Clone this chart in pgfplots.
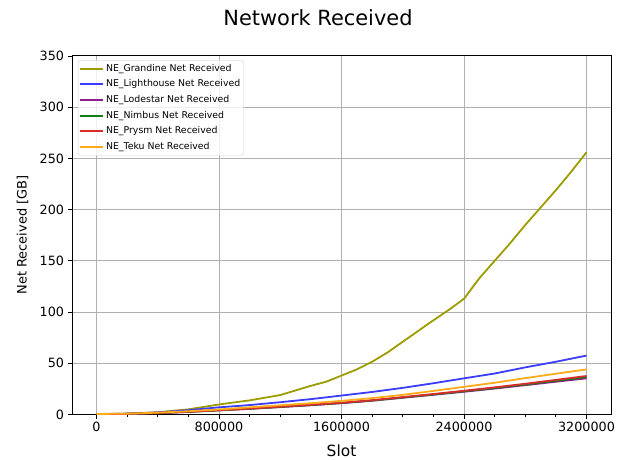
\documentclass[border=0pt]{standalone}
\usepackage{pgfplots}
\pgfplotsset{compat=1.18}
\usepackage{fontspec}
\setmainfont{DejaVu Sans}

\definecolor{grandinecol}{RGB}{156,156,0}
\definecolor{lighthousecol}{RGB}{60,60,255}
\definecolor{lodestarcol}{RGB}{142,30,142}
\definecolor{nimbuscol}{RGB}{20,128,20}
\definecolor{prysmcol}{RGB}{216,44,44}
\definecolor{tekucol}{RGB}{255,170,26}

\begin{document}
\begin{tikzpicture}[x=1bp,y=1bp]
\path[use as bounding box] (0,0) rectangle (627,460);
\begin{axis}[
    at={(72bp,45.5bp)}, anchor=south west,
    scale only axis, width=539bp, height=358.5bp,
    xmin=-160000, xmax=3360000, ymin=0, ymax=350,
    xtick={0,800000,1600000,2400000,3200000},
    ytick={0,50,100,150,200,250,300,350},
    minor x tick num=3,
    scaled x ticks=false,
    xticklabel style={/pgf/number format/fixed,/pgf/number format/1000 sep={}},
    /pgf/number format/assume math mode=true,
    ticklabel style={font=\fontsize{12.8}{14}\selectfont},
    tick align=outside, tick pos=left,
    major tick length=4.5bp, minor tick length=2.6bp,
    every tick/.style={black, line width=0.9bp},
    axis line style={line width=1bp},
    grid=major,
    major grid style={color=black!31, line width=1bp},
    legend style={at={(0.011,0.988)}, anchor=north west,
        draw=black!20, rounded corners=2bp, fill=white, fill opacity=0.8, text opacity=1,
        font=\fontsize{9.4}{11}\selectfont,
        inner xsep=1bp, inner ysep=0.3bp, row sep=0pt,
        nodes={inner xsep=2.2bp, inner ysep=0bp, text height=7.2bp, text depth=2.4bp, minimum height=15.7bp}},
    legend cell align=left,
    legend image code/.code={\draw[#1,line width=2bp,draw opacity=1] (0bp,0bp) -- (22.7bp,0bp);},
    every axis plot/.append style={line width=1.8bp},
]
\addplot[draw=grandinecol] coordinates {
(0,0.3) (200000,0.9) (400000,2.2) (600000,5) (800000,9.8) (1000000,13.8)
(1200000,19) (1400000,28) (1500000,32) (1600000,38) (1700000,44) (1800000,51.5)
(1900000,60.5) (2000000,71) (2100000,81.5) (2200000,92) (2300000,102) (2400000,113)
(2450000,123) (2500000,133) (2600000,150) (2700000,167) (2800000,185) (2900000,202)
(3000000,219) (3100000,237) (3200000,256)};
\addlegendentry{NE\_Grandine Net Received}
\addplot[draw=lighthousecol] coordinates {
(0,0.3) (200000,0.8) (400000,2) (600000,4.2) (800000,7) (1000000,9.2) (1200000,12)
(1400000,15) (1600000,18.5) (1800000,22) (2000000,26) (2200000,30.5) (2400000,35.3)
(2600000,40) (2800000,46) (3000000,51.5) (3200000,57.5)};
\addlegendentry{NE\_Lighthouse Net Received}
\addplot[draw=lodestarcol] coordinates {
(0,0.3) (200000,0.6) (400000,1.3) (600000,2.5) (800000,4) (1000000,5.5) (1200000,7.2)
(1400000,9) (1600000,11) (1800000,13.4) (2000000,16.3) (2200000,19.2) (2400000,22.2)
(2600000,25.3) (2800000,28.6) (3000000,32) (3200000,35.3)};
\addlegendentry{NE\_Lodestar Net Received}
\addplot[draw=nimbuscol] coordinates {
(0,0.3) (200000,0.6) (400000,1.35) (600000,2.6) (800000,4.1) (1000000,5.65) (1200000,7.4)
(1400000,9.25) (1600000,11.25) (1800000,13.7) (2000000,16.6) (2200000,19.6) (2400000,22.7)
(2600000,25.9) (2800000,29.3) (3000000,32.9) (3200000,36.5)};
\addlegendentry{NE\_Nimbus Net Received}
\addplot[draw=prysmcol] coordinates {
(0,0.3) (200000,0.6) (400000,1.4) (600000,2.7) (800000,4.2) (1000000,5.8) (1200000,7.6)
(1400000,9.5) (1600000,11.5) (1800000,14) (2000000,17) (2200000,20) (2400000,23.2)
(2600000,26.5) (2800000,30) (3000000,33.8) (3200000,37.6)};
\addlegendentry{NE\_Prysm Net Received}
\addplot[draw=tekucol] coordinates {
(0,0.5) (200000,0.8) (400000,1.8) (600000,3.2) (800000,4.9) (1000000,7) (1200000,9)
(1400000,11) (1600000,13.3) (1800000,16) (2000000,19.2) (2200000,23) (2400000,27)
(2600000,31) (2800000,35.5) (3000000,39.8) (3200000,44)};
\addlegendentry{NE\_Teku Net Received}
\end{axis}
\node[anchor=base, font=\fontsize{21}{24}\selectfont] at (318,434.3) {Network Received};
\node[anchor=base, font=\fontsize{15.5}{18}\selectfont] at (341.5,3) {Slot};
\node[rotate=90, font=\fontsize{13}{15}\selectfont] at (22.5,225) {Net Received [GB]};
\end{tikzpicture}
\end{document}
